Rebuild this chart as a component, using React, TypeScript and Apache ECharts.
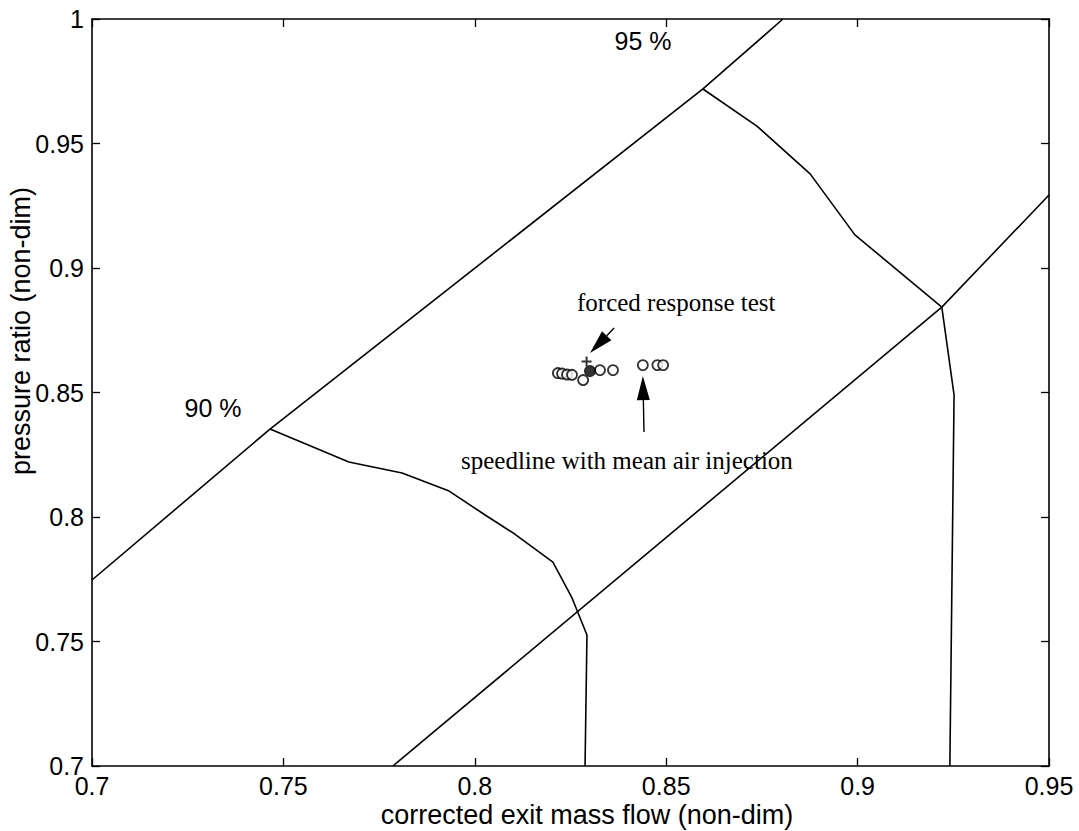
import React, { useEffect, useRef } from "react";
import * as echarts from "echarts";

// Compressor map: two operating-limit lines, the 90 % and 95 % speedlines,
// and the measured operating points near the design point.
const upperLine: [number, number][] = [
  [0.7, 0.7747],
  [0.7465, 0.8353],
  [0.8596, 0.9719],
  [0.8805, 1.0],
];

const lowerLine: [number, number][] = [
  [0.7786, 0.7],
  [0.922, 0.8843],
  [0.95, 0.9293],
];

const speed90: [number, number][] = [
  [0.7465, 0.8353],
  [0.7671, 0.8221],
  [0.781, 0.8177],
  [0.7933, 0.8104],
  [0.8027, 0.8008],
  [0.81, 0.7936],
  [0.8204, 0.7819],
  [0.8254, 0.7675],
  [0.8293, 0.7526],
  [0.8288, 0.7],
];

const speed95: [number, number][] = [
  [0.8596, 0.9719],
  [0.8737, 0.957],
  [0.8876, 0.9378],
  [0.8993, 0.9133],
  [0.922, 0.8843],
  [0.9252, 0.849],
  [0.9241, 0.7],
];

// speedline points measured with mean air injection
const injectionPoints: [number, number][] = [
  [0.8217, 0.8578],
  [0.8228, 0.8576],
  [0.8241, 0.8572],
  [0.8254, 0.8571],
  [0.8283, 0.855],
  [0.8327, 0.859],
  [0.8361, 0.859],
  [0.8439, 0.861],
  [0.8477, 0.861],
  [0.8492, 0.861],
];

// forced response test condition
const forcedPoint: [number, number][] = [[0.8301, 0.8586]];
const forcedCross: [number, number][] = [[0.8292, 0.8625]];

// arrows: [tailX, tailY, tipX, tipY]
const arrows: [number, number, number, number][] = [
  [0.8364, 0.8759, 0.8301, 0.8659],
  [0.8442, 0.8341, 0.8439, 0.8566],
];

const SANS = "'Liberation Sans', Arial, Helvetica, sans-serif";
const SERIF = "'Liberation Serif', 'Times New Roman', serif";

const lineSeries = (data: [number, number][]) => ({
  type: "line",
  data,
  showSymbol: false,
  symbol: "none",
  lineStyle: { color: "#000", width: 1.6 },
  silent: true,
  z: 2,
});

export default function App() {
  const ref = useRef<HTMLDivElement>(null);

  useEffect(() => {
    if (!ref.current) return;
    const chart = echarts.init(ref.current, null, { renderer: "svg" });

    const fmt = (v: number) => String(Number(v.toFixed(2)));

    const axisCommon = {
      type: "value",
      axisLine: { show: true, onZero: false, lineStyle: { color: "#000", width: 1.6 } },
      axisTick: { show: true, inside: true, length: 8, lineStyle: { color: "#000", width: 1.3 } },
      splitLine: { show: false },
      axisLabel: { color: "#000", fontFamily: SANS, fontSize: 25 },
    };

    chart.setOption({
      animation: false,
      backgroundColor: "#fff",
      grid: { left: 92, right: 30, top: 19, bottom: 65, containLabel: false },
      xAxis: [
        {
          ...axisCommon,
          min: 0.7,
          max: 0.95,
          interval: 0.05,
          position: "bottom",
          axisLabel: { ...axisCommon.axisLabel, margin: 7, formatter: fmt, showMinLabel: true, showMaxLabel: true },
        },
        {
          ...axisCommon,
          min: 0.7,
          max: 0.95,
          interval: 0.05,
          position: "top",
          axisLabel: { show: false },
        },
      ],
      yAxis: [
        {
          ...axisCommon,
          min: 0.7,
          max: 1,
          interval: 0.05,
          position: "left",
          axisLabel: { ...axisCommon.axisLabel, margin: 8, formatter: fmt },
        },
        {
          ...axisCommon,
          min: 0.7,
          max: 1,
          interval: 0.05,
          position: "right",
          axisLabel: { show: false },
        },
      ],
      series: [
        lineSeries(upperLine),
        lineSeries(lowerLine),
        lineSeries(speed90),
        lineSeries(speed95),
        {
          type: "scatter",
          data: injectionPoints,
          symbol: "circle",
          symbolSize: 10,
          itemStyle: { color: "#fff", borderColor: "#000", borderWidth: 1.8 },
          z: 3,
        },
        {
          type: "scatter",
          data: forcedPoint,
          symbol: "circle",
          symbolSize: 11,
          itemStyle: { color: "#000", borderColor: "#000", borderWidth: 1 },
          z: 4,
        },
        {
          type: "scatter",
          data: forcedCross,
          symbol: "path://M4,0h2v4h4v2h-4v4h-2v-4h-4v-2h4z",
          symbolSize: 10,
          itemStyle: { color: "#000" },
          z: 4,
        },
        {
          type: "custom",
          data: arrows,
          z: 5,
          silent: true,
          renderItem: (_params: any, api: any) => {
            const tail = api.coord([api.value(0), api.value(1)]);
            const tip = api.coord([api.value(2), api.value(3)]);
            const dx = tip[0] - tail[0];
            const dy = tip[1] - tail[1];
            const len = Math.sqrt(dx * dx + dy * dy) || 1;
            const ux = dx / len;
            const uy = dy / len;
            const headLen = 24;
            const halfW = 6.5;
            const bx = tip[0] - ux * headLen;
            const by = tip[1] - uy * headLen;
            return {
              type: "group",
              children: [
                {
                  type: "line",
                  shape: { x1: tail[0], y1: tail[1], x2: bx, y2: by },
                  style: { stroke: "#000", lineWidth: 1.4 },
                },
                {
                  type: "polygon",
                  shape: {
                    points: [
                      [tip[0], tip[1]],
                      [bx - uy * halfW, by + ux * halfW],
                      [bx + uy * halfW, by - ux * halfW],
                    ],
                  },
                  style: { fill: "#000" },
                },
              ],
            };
          },
        },
      ],
      graphic: [
        {
          type: "text",
          x: 643,
          y: 41,
          style: { text: "95 %", font: `25px ${SANS}`, fill: "#000", align: "center", verticalAlign: "middle" },
        },
        {
          type: "text",
          x: 213,
          y: 408,
          style: { text: "90 %", font: `25px ${SANS}`, fill: "#000", align: "center", verticalAlign: "middle" },
        },
        {
          type: "text",
          x: 577,
          y: 302,
          style: { text: "forced response test", font: `25px ${SERIF}`, fill: "#000", align: "left", verticalAlign: "middle" },
        },
        {
          type: "text",
          x: 461,
          y: 460,
          style: {
            text: "speedline with mean air injection",
            font: `25px ${SERIF}`,
            fill: "#000",
            align: "left",
            verticalAlign: "middle",
          },
        },
        {
          type: "text",
          x: 587,
          y: 815,
          style: {
            text: "corrected exit mass flow (non-dim)",
            font: `27px ${SANS}`,
            fill: "#000",
            align: "center",
            verticalAlign: "middle",
          },
        },
        {
          type: "text",
          x: 21,
          y: 331,
          rotation: Math.PI / 2,
          style: {
            text: "pressure ratio (non-dim)",
            font: `27px ${SANS}`,
            fill: "#000",
            align: "center",
            verticalAlign: "middle",
          },
        },
      ],
    });

    return () => chart.dispose();
  }, []);

  return (
    <div
      ref={ref}
      style={{ position: "fixed", left: 0, top: 0, width: 1079, height: 831, background: "#fff" }}
    />
  );
}
